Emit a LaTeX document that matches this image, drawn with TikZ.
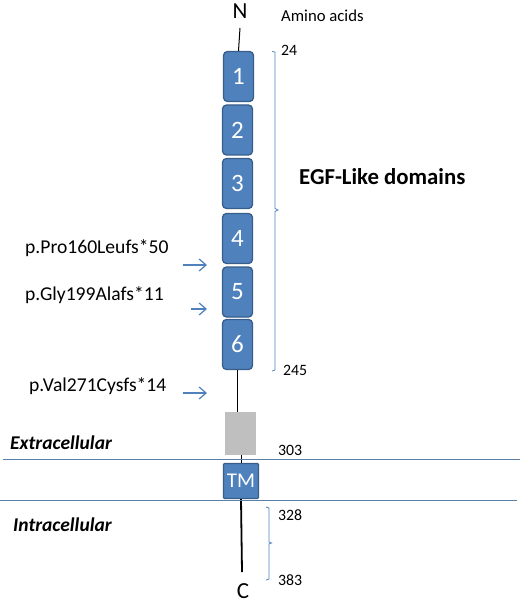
\documentclass[tikz,border=0pt]{standalone}
\usepackage{fontspec}
\setmainfont{Carlito}
\usetikzlibrary{arrows.meta}
\definecolor{boxblue}{HTML}{4F81BD}
\definecolor{boxedge}{HTML}{385D8A}
\definecolor{lineblue}{HTML}{4F81BD}
\definecolor{memblue}{HTML}{5A7FA8}
\definecolor{greybox}{HTML}{BFBFBF}
\tikzset{
  egf/.style={draw=boxedge, line width=1.3pt, fill=boxblue, rounded corners=4pt,
    minimum width=30pt, minimum height=50pt, inner sep=0pt, text=white,
    font=\fontsize{25}{25}\selectfont},
  tmbox/.style={draw=boxedge, line width=1.3pt, fill=boxblue, rounded corners=1pt,
    minimum width=35pt, minimum height=35pt, inner sep=0pt, text=white,
    font=\fontsize{21}{21}\selectfont},
  num/.style={font=\fontsize{15.8}{15.8}\selectfont, anchor=west, inner sep=0pt},
  mut/.style={font=\fontsize{19.6}{19.6}\selectfont, anchor=west, inner sep=0pt},
  region/.style={font=\fontsize{19.5}{19.5}\selectfont\bfseries\itshape, anchor=west, inner sep=0pt},
  term/.style={font=\fontsize{23}{23}\selectfont, inner sep=0pt},
  mutarrow/.style={draw=lineblue, line width=1.2pt, -{Straight Barb[length=7pt,width=12pt]}},
  brace/.style={draw=lineblue, line width=0.8pt},
  membrane/.style={draw=memblue, line width=1pt},
  chain/.style={draw=black, line width=1pt},
}
\begin{document}
\begin{tikzpicture}[x=1pt,y=-1pt]
\useasboundingbox (0,0) rectangle (520,604);
% terminus
\node[term] (N) at (240,11) {N};
\node[font=\fontsize{16.7}{16.7}\selectfont, anchor=west, inner sep=0pt] (aa) at (281,16) {Amino acids};
% EGF domains
\node[egf] (b1) at (238.5,76.5) {1};
\node[egf] (b2) at (237.5,130) {2};
\node[egf] (b3) at (237.5,183.5) {3};
\node[egf] (b4) at (237.5,238.5) {4};
\node[egf] (b5) at (237.5,292) {5};
\node[egf] (b6) at (237.5,344.5) {6};
\draw[chain] (240,28) -- (b1.north);
% grey box and TM
\node[fill=greybox, minimum width=31pt, minimum height=43pt, inner sep=0pt] (grey) at (240.5,433.5) {};
\node[tmbox] (tm) at (241,481) {TM};
\draw[chain] (b6.south) -- (b6.south |- grey.north);
\draw[chain] (tm.north |- grey.south) -- (tm.north);
\node[term] (C) at (243,591) {C};
\coordinate (cend) at (242,572);
\draw[black, line width=1.8pt] (tm.south) -- (cend);
% membrane
\coordinate (m1a) at (3,459);
\coordinate (m1b) at (520,459);
\coordinate (m2a) at (0,500);
\coordinate (m2b) at (517,500);
\draw[membrane] (m1a) -- (m1b);
\draw[membrane] (m2a) -- (m2b);
% EGF brace
\draw[brace] (272,51.5) -- (275,52) -- (275,208.5) -- (278,210) -- (275,211.5) -- (275,370) -- (272,371);
\node[num] (n24) at (281,50) {24};
\node[num] (n245) at (283,370) {245};
\node[font=\fontsize{22.8}{22.8}\selectfont\bfseries, anchor=west, inner sep=0pt] (egflabel) at (299,177) {EGF-Like domains};
% intracellular brace
\draw[brace] (266,507) -- (269,508) -- (269,542) -- (271.5,543) -- (269,544) -- (269,579) -- (266,580);
\node[num] (n328) at (278,515) {328};
\node[num] (n383) at (278,580) {383};
\node[num] (n303) at (278,450) {303};
% regions
\node[region] (ext) at (10,443) {Extracellular};
\node[region] (int) at (13,525) {Intracellular};
% mutations
\node[mut] (m1) at (25,248) {p.Pro160Leufs*50};
\node[mut] (m2) at (25,295) {p.Gly199Alafs*11};
\node[mut] (m3) at (29,386) {p.Val271Cysfs*14};
\coordinate (a1s) at (183,265);
\coordinate (a1e) at (207,265);
\coordinate (a2s) at (191,309);
\coordinate (a2e) at (207,309);
\coordinate (a3s) at (183,393);
\coordinate (a3e) at (207,393);
\draw[mutarrow] (a1s) -- (a1e);
\draw[mutarrow] (a2s) -- (a2e);
\draw[mutarrow] (a3s) -- (a3e);
\end{tikzpicture}
\end{document}
